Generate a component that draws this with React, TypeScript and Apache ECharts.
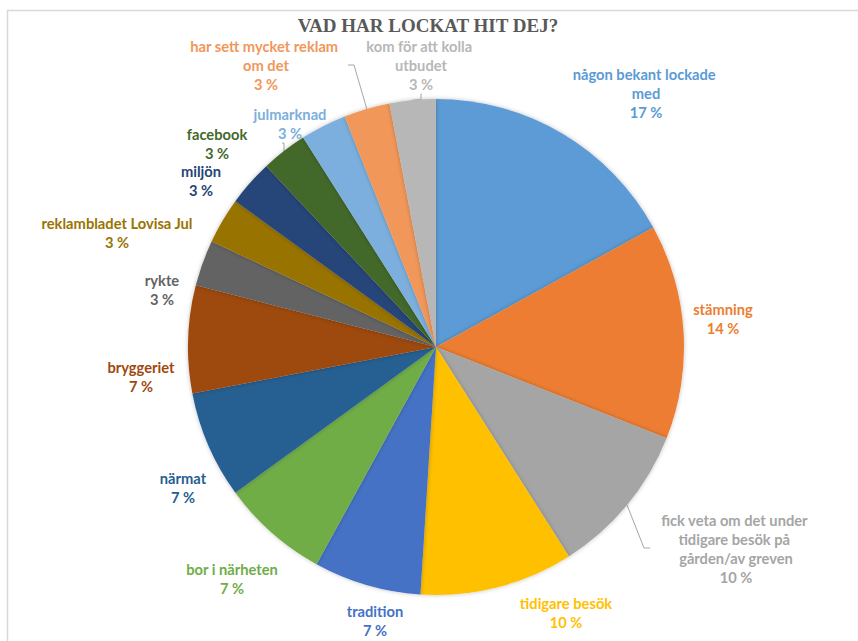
import React, { useEffect, useRef } from "react";
import * as echarts from "echarts";

const categories = [
  "någon bekant lockade med",
  "stämning",
  "fick veta om det under tidigare besök på gården/av greven",
  "tidigare besök",
  "tradition",
  "bor i närheten",
  "närmat",
  "bryggeriet",
  "rykte",
  "reklambladet Lovisa Jul",
  "miljön",
  "facebook",
  "julmarknad",
  "har sett mycket reklam om det",
  "kom för att kolla utbudet",
];
const percentValues = [17, 14, 10, 10, 7, 7, 7, 7, 3, 3, 3, 3, 3, 3, 3];

const colors = [
  "#5B9BD5", "#ED7D31", "#A5A5A5", "#FFC000", "#4472C4", "#70AD47",
  "#255E91", "#9E480E", "#636363", "#997300", "#264478", "#43682B",
  "#7CAFDD", "#F1975A", "#B7B7B7",
];
// label centre positions (layout only)
const labelPos: [number, number][] = [
  [646, 93], [723, 318], [736, 548], [566, 612], [375, 620], [232, 578],
  [183, 487], [141, 376], [162, 289], [117, 232], [201, 180], [217, 143],
  [290, 123], [266, 65], [421, 65],
];
const labelWidths = [160, 130, 172, 130, 130, 130, 130, 130, 130, 200, 130, 130, 130, 164, 130];
const withLine = [false, false, true, false, false, false, false, false, false, false, false, true, false, true, true];

export default function App() {
  const ref = useRef<HTMLDivElement>(null);
  useEffect(() => {
    if (!ref.current) return;
    const chart = echarts.init(ref.current, undefined, { renderer: "svg" });
    const data = categories.map((name, i) => ({
      name,
      value: percentValues[i],
      itemStyle: { color: colors[i] },
      label: { color: colors[i], width: labelWidths[i] },
      labelLine: { show: withLine[i] },
    }));
    chart.setOption({
      animation: false,
      backgroundColor: "#ffffff",
      title: {
        text: "VAD HAR LOCKAT HIT DEJ?",
        left: 423,
        top: 11,
        textAlign: "center",
        textStyle: {
          fontFamily: "Liberation Serif",
          fontWeight: "bold",
          fontSize: 19,
          color: "#595959",
        },
      },
      graphic: [
        {
          type: "rect",
          shape: { x: 7.5, y: 10.5, width: 900, height: 700 },
          style: { fill: "none", stroke: "#d9d9d9", lineWidth: 1.5 },
          silent: true,
        },
      ],
      series: [
        {
          type: "pie",
          center: [436, 347],
          radius: [0, 248],
          startAngle: 90,
          clockwise: true,
          data,
          itemStyle: {
            borderWidth: 0,
            shadowBlur: 4,
            shadowColor: "rgba(0,0,0,0.25)",
          },
          label: {
            show: true,
            position: "outside",
            formatter: "{b}\n{c} %",
            fontFamily: "Lato",
            fontWeight: "bold",
            fontSize: 14.7,
            lineHeight: 19,
            align: "center",
            overflow: "break",
          },
          labelLine: {
            show: false,
            length: 10,
            length2: 6,
            lineStyle: { color: "#a6a6a6", width: 1 },
          },
          labelLayout: (params: any) => {
            const p = labelPos[params.dataIndex];
            return {
              x: p[0],
              y: p[1],
              align: "center",
              verticalAlign: "middle",
            };
          },
        },
      ],
    });
    return () => chart.dispose();
  }, []);
  return (
    <div
      ref={ref}
      style={{ position: "absolute", left: 0, top: 0, width: 858, height: 641 }}
    />
  );
}
